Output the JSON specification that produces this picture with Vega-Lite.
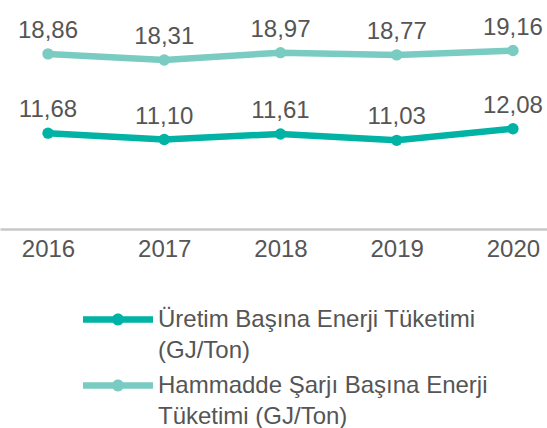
{
  "$schema": "https://vega.github.io/schema/vega-lite/v6.json",
  "width": 547,
  "height": 229,
  "padding": 0,
  "autosize": {"type": "pad"},
  "config": {
    "view": {"stroke": null},
    "font": "Liberation Sans",
    "locale": {"number": {"decimal": ",", "thousands": ".", "grouping": [3], "currency": ["", " TL"]}}
  },
  "data": {
    "values": [
      {"year": 2016, "value": 11.68, "series": "Üretim Başına Enerji Tüketimi (GJ/Ton)"},
      {"year": 2017, "value": 11.10, "series": "Üretim Başına Enerji Tüketimi (GJ/Ton)"},
      {"year": 2018, "value": 11.61, "series": "Üretim Başına Enerji Tüketimi (GJ/Ton)"},
      {"year": 2019, "value": 11.03, "series": "Üretim Başına Enerji Tüketimi (GJ/Ton)"},
      {"year": 2020, "value": 12.08, "series": "Üretim Başına Enerji Tüketimi (GJ/Ton)"},
      {"year": 2016, "value": 18.86, "series": "Hammadde Şarjı Başına Enerji Tüketimi (GJ/Ton)"},
      {"year": 2017, "value": 18.31, "series": "Hammadde Şarjı Başına Enerji Tüketimi (GJ/Ton)"},
      {"year": 2018, "value": 18.97, "series": "Hammadde Şarjı Başına Enerji Tüketimi (GJ/Ton)"},
      {"year": 2019, "value": 18.77, "series": "Hammadde Şarjı Başına Enerji Tüketimi (GJ/Ton)"},
      {"year": 2020, "value": 19.16, "series": "Hammadde Şarjı Başına Enerji Tüketimi (GJ/Ton)"}
    ]
  },
  "encoding": {
    "x": {
      "field": "year", "type": "quantitative",
      "scale": {"domain": [2015.587, 2020.293], "nice": false, "zero": false},
      "axis": {
        "title": null, "values": [2016, 2017, 2018, 2019, 2020], "format": "d",
        "grid": false, "ticks": false,
        "domainColor": "#c8c8c8", "domainWidth": 2.5,
        "labelFontSize": 24, "labelColor": "#555555", "labelPadding": 8,
        "labelFont": "Liberation Sans"
      }
    },
    "y": {
      "field": "value", "type": "quantitative",
      "scale": {"domain": [3.0, 23.74], "nice": false, "zero": false},
      "axis": null
    },
    "color": {
      "field": "series", "type": "nominal",
      "scale": {
        "domain": ["Üretim Başına Enerji Tüketimi (GJ/Ton)", "Hammadde Şarjı Başına Enerji Tüketimi (GJ/Ton)"],
        "range": ["#00B3A4", "#7ACBC1"]
      },
      "legend": {
        "title": null,
        "orient": "none",
        "legendX": 100.5,
        "legendY": 302,
        "direction": "vertical",
        "symbolType": "M-2,-0.19H2V0.19H-2Z M0.34,0A0.34,0.34,0,1,1,-0.34,0A0.34,0.34,0,1,1,0.34,0Z",
        "symbolSize": 1225,
        "symbolStrokeWidth": 0,
        "labelFontSize": 24,
        "labelColor": "#555555",
        "labelFont": "Liberation Sans",
        "labelLimit": 0,
        "labelOffset": 22.5,
        "labelBaseline": "middle",
        "rowPadding": 5,
        "labelExpr": "datum.label == 'Üretim Başına Enerji Tüketimi (GJ/Ton)' ? ['Üretim Başına Enerji Tüketimi', '(GJ/Ton)'] : ['Hammadde Şarjı Başına Enerji', 'Tüketimi (GJ/Ton)']",
        "encode": {
          "symbols": {"update": {"fill": {"scale": "color", "field": "value"}, "stroke": {"value": "transparent"}}},
          "labels": {"update": {"lineHeight": {"value": 31}}}
        }
      }
    }
  },
  "layer": [
    {"mark": {"type": "line", "strokeWidth": 6.5}},
    {"mark": {"type": "circle", "size": 130, "opacity": 1}},
    {
      "mark": {"type": "text", "dy": -23, "fontSize": 24, "color": "#555555", "font": "Liberation Sans"},
      "encoding": {
        "text": {"field": "value", "type": "quantitative", "format": ".2f"},
        "color": {"value": "#555555"}
      }
    }
  ]
}
